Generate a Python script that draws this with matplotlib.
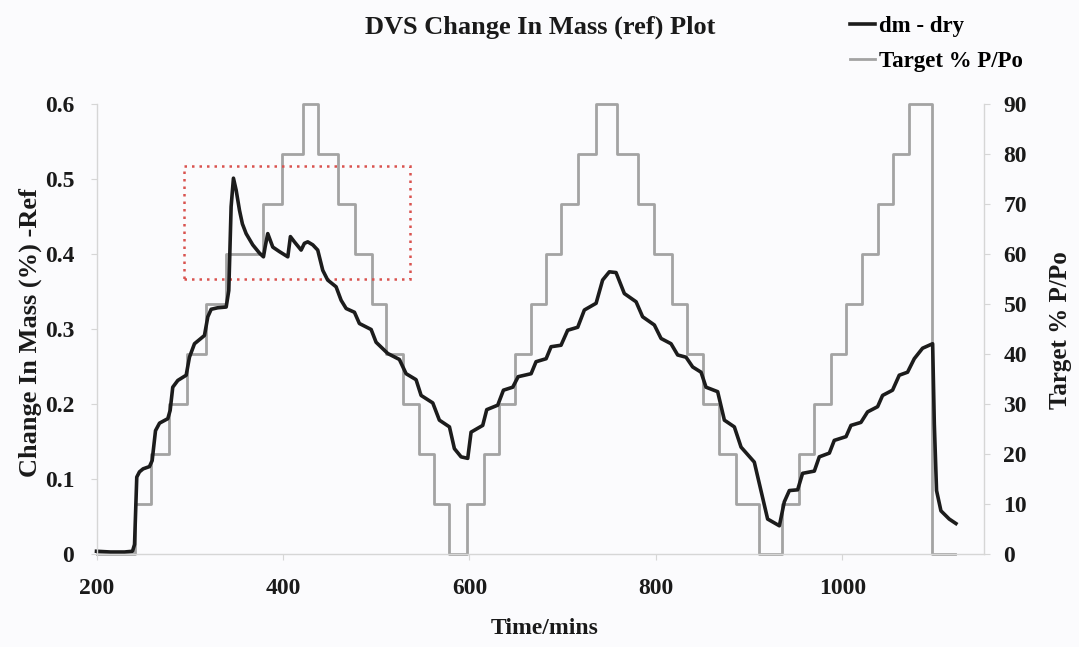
import matplotlib
matplotlib.use('Agg')
import matplotlib.pyplot as plt
from matplotlib.patches import Rectangle
from matplotlib.lines import Line2D

plt.rcParams['font.family'] = ['Liberation Serif', 'DejaVu Serif']
plt.rcParams['font.weight'] = 'bold'

# ---- data ----
target_time = [200, 240.8, 258.7, 278.3, 296.8, 317.6, 339.1, 378.3, 399.1, 421.2,
               437.3, 458.8, 477.7, 495.7, 510.7, 528.5, 545.6, 562.5, 578.6,
               597.5, 615.3, 631.4, 648.8, 666.2, 682.3, 698.3, 716.2, 735.9,
               758.0, 780.5, 798.4, 817.0, 833.0, 850.2, 868.1, 886.0, 910.2,
               935.3, 953.1, 970.0, 987.9, 1004.0, 1021.1, 1037.9, 1053.9, 1071.8,
               1096.2, 1121.0]
target_pct = [0, 10, 20, 30, 40, 50, 60, 70, 80, 90,
              80, 70, 60, 50, 40, 30, 20, 10, 0,
              10, 20, 30, 40, 50, 60, 70, 80, 90,
              80, 70, 60, 50, 40, 30, 20, 10, 0,
              10, 20, 30, 40, 50, 60, 70, 80, 90,
              0, 0]

dm_time = [200, 215, 230, 238.6, 240.8, 243.2, 246.1, 250, 256.8, 259.7, 263.3, 267.6,
           276.5, 279, 281.8, 287.2, 296.2, 299.7, 305.1, 315.8, 319.4, 323, 330,
           339.1, 341.9, 344.4, 346.9, 349.8, 353.4, 356.5, 360.5, 367.6, 374.8,
           379.1, 381, 383.7, 389.1, 396.2, 405.2, 408, 412.3, 419.5, 423, 426.6,
           432, 437.3, 442.7, 448, 457, 462.4, 467.8, 476.7, 482, 494.6, 499.9,
           512.4, 524.9, 532.1, 542.8, 548.2, 560.7, 567.8, 578.6, 583.9, 591.1,
           598.2, 601.8, 614.3, 618.6, 630.4, 636.5, 646.5, 652.3, 666.2, 671.5,
           682.3, 687.6, 698.3, 705.4, 716.2, 723.3, 735.9, 742.9, 750.1, 757.3,
           766.2, 778.8, 785.8, 798.4, 805.6, 816.3, 823.4, 832.4, 839.5, 848.5,
           853.8, 866.3, 873.5, 884.2, 891.4, 905.6, 912.8, 919.9, 932.5, 937.8,
           943.2, 952.1, 957.4, 970, 975.3, 986.1, 991.4, 1004, 1009.3, 1020,
           1027.1, 1037.9, 1043.2, 1053.9, 1061.1, 1070, 1077.2, 1086.1, 1095.1,
           1096.9, 1098.7, 1101.1, 1105.8, 1114.7, 1121.9]
dm_value = [0.003, 0.002, 0.002, 0.003, 0.012, 0.102, 0.109, 0.113, 0.116, 0.124, 0.164, 0.174,
            0.180, 0.191, 0.222, 0.231, 0.238, 0.262, 0.280, 0.291, 0.316, 0.326, 0.328,
            0.329, 0.351, 0.463, 0.501, 0.485, 0.458, 0.440, 0.427, 0.412, 0.401,
            0.396, 0.410, 0.427, 0.409, 0.403, 0.396, 0.423, 0.416, 0.405, 0.414, 0.416,
            0.412, 0.405, 0.378, 0.365, 0.356, 0.338, 0.327, 0.322, 0.307, 0.299, 0.282,
            0.267, 0.259, 0.240, 0.232, 0.211, 0.201, 0.178, 0.169, 0.140, 0.129,
            0.127, 0.162, 0.171, 0.192, 0.198, 0.218, 0.222, 0.236, 0.240, 0.256,
            0.260, 0.276, 0.278, 0.298, 0.302, 0.325, 0.334, 0.365, 0.376, 0.375,
            0.347, 0.336, 0.316, 0.305, 0.287, 0.280, 0.265, 0.262, 0.249, 0.242,
            0.222, 0.216, 0.178, 0.169, 0.142, 0.122, 0.084, 0.046, 0.037, 0.069,
            0.084, 0.085, 0.107, 0.110, 0.129, 0.134, 0.151, 0.156, 0.171, 0.175,
            0.189, 0.196, 0.211, 0.218, 0.238, 0.242, 0.260, 0.274, 0.279,
            0.280, 0.173, 0.084, 0.057, 0.046, 0.040]

x_ticks = [200, 400, 600, 800, 1000]
left_ticks = [0, 0.1, 0.2, 0.3, 0.4, 0.5, 0.6]
left_labels = ['0', '0.1', '0.2', '0.3', '0.4', '0.5', '0.6']
right_ticks = [0, 10, 20, 30, 40, 50, 60, 70, 80, 90]

box_time = [294.2, 536.2]
box_value = [0.366, 0.517]

# ---- figure ----
bg = '#fbfbfd'
W, H = 1079, 647
fig = plt.figure(figsize=(W / 100, H / 100), dpi=100, facecolor=bg)
ax = fig.add_axes([96.5 / W, 1 - 553.5 / H, (984 - 96.5) / W, (553.5 - 104) / H])
ax2 = ax.twinx()
ax.set_zorder(ax2.get_zorder() + 1)
ax.patch.set_visible(False)
ax2.set_facecolor(bg)

grey_line = '#a3a3a3'
black_line = '#1c1c1c'
spine_c = '#d6d6d6'

ax2.step(target_time, target_pct, where='post', color=grey_line, lw=2.0, clip_on=False)
ax.plot(dm_time, dm_value, color=black_line, lw=2.6, clip_on=False,
        solid_joinstyle='round')

ax.add_patch(Rectangle((box_time[0], box_value[0]), box_time[1] - box_time[0],
                       box_value[1] - box_value[0], fill=False, edgecolor='#d9534f',
                       lw=1.8, linestyle=(0, (1, 2))))

ax.set_xlim(200, 1152)
ax.set_ylim(0, 0.6)
ax2.set_ylim(0, 90)

ax.set_xticks(x_ticks)
ax.set_xticklabels([str(v) for v in x_ticks])
ax.set_yticks(left_ticks)
ax.set_yticklabels(left_labels)
ax2.set_yticks(right_ticks)
ax2.set_yticklabels([str(v) for v in right_ticks])

for a in (ax, ax2):
    for s in a.spines.values():
        s.set_color(spine_c)
        s.set_linewidth(1.0)
    a.spines['top'].set_visible(False)
ax.spines['right'].set_visible(False)
ax2.spines['left'].set_visible(False)
ax2.spines['bottom'].set_visible(False)

ax.tick_params(axis='x', colors=spine_c, labelcolor='#1a1a1a', length=4,
               pad=14, labelsize=17)
ax.tick_params(axis='y', colors=spine_c, labelcolor='#1a1a1a', length=4,
               pad=12, labelsize=17)
ax2.tick_params(axis='y', colors=spine_c, labelcolor='#1a1a1a', length=4,
                pad=10, labelsize=17)

fig.text(540 / W, 1 - 27 / H, 'DVS Change In Mass (ref) Plot', ha='center',
         va='center', fontsize=19, color='#1a1a1a')
fig.text(545 / W, 1 - 628 / H, 'Time/mins', ha='center', va='center',
         fontsize=17, color='#1a1a1a')
fig.text(30 / W, 1 - 333 / H, 'Change In Mass (%) -Ref', ha='center',
         va='center', rotation=90, fontsize=19, color='#1a1a1a')
fig.text(1060 / W, 1 - 330 / H, 'Target % P/Po', ha='center',
         va='center', rotation=90, fontsize=18, color='#1a1a1a')

handles = [Line2D([], [], color=black_line, lw=2.6),
           Line2D([], [], color=grey_line, lw=2.0)]
fig.legend(handles, ['dm - dry', 'Target % P/Po'], loc='upper left',
           bbox_to_anchor=(850 / W, 1 - 16 / H), frameon=False, fontsize=16.5,
           handlelength=1.1, handletextpad=0.15, labelspacing=0.6,
           borderaxespad=0, borderpad=0)

fig.savefig('out.png', dpi=100, facecolor=bg)
